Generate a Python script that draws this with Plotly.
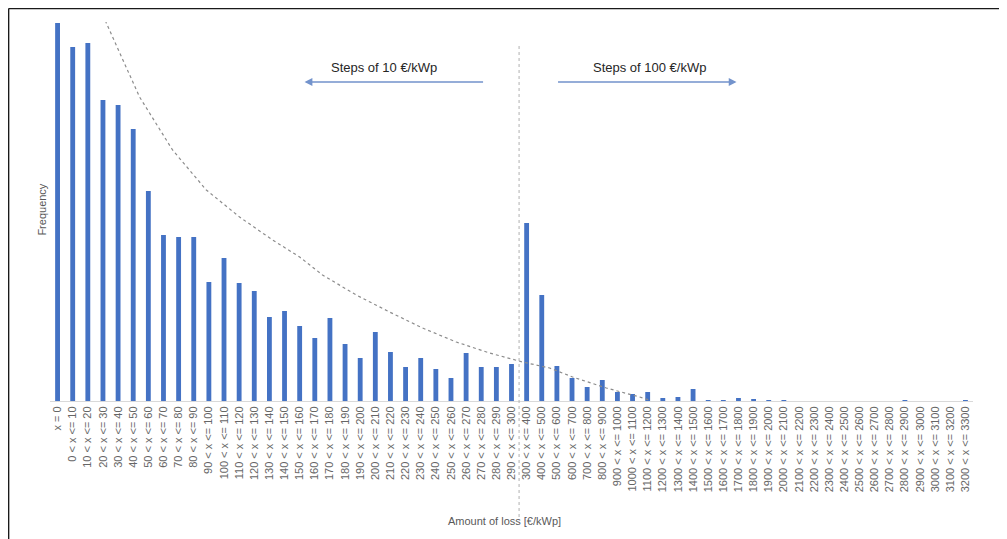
import plotly.graph_objects as go

# ---- data ----
categories = ["x = 0"] + [f"{a} < x <= {a + 10}" for a in range(0, 300, 10)] + \
             [f"{a} < x <= {a + 100}" for a in range(300, 3300, 100)]

frequency = [378, 354, 358, 301, 296, 272, 210, 166, 164, 164,
             119, 143, 118, 110, 84, 90, 75, 63, 83, 57,
             43, 69, 49, 34, 43, 32, 23, 48, 34, 34,
             37, 178, 106, 35, 23, 14, 21, 9, 7, 9,
             3, 4, 12, 1, 1, 3, 2, 1, 1, 0,
             0, 0, 0, 0, 0, 0, 0.6, 0, 0, 0,
             1]

trend_x = [2.95, 3.22, 5.42, 7.60, 9.83, 12.03, 14.21, 16.0, 17.51, 19.74,
           21.94, 24.12, 26.35, 28.55, 30.73, 32.52, 34.04, 36.27, 38.47, 39.1]
trend_y = [392, 378, 304, 251, 211, 184, 161, 144, 126, 106,
           89, 73, 59, 48, 39, 33, 24, 13, 4, 1]

# ---- layout geometry (window pixels; page body has an 8px margin) ----
OFF = 8
W, H = 1007, 539
PL, PR, PT, PB = 50.4, 973.5, 22, 401   # plot box in window pixels
ML, MT = PL - OFF, PT - OFF
MR, MB = W - (PR - OFF), H - (PB - OFF)
PW, PH = PR - PL, PB - PT


def px_x(p):
    return (p - PL) / PW


def px_y(p):
    return (PB - p) / PH


idx = list(range(len(categories)))

fig = go.Figure()
fig.add_trace(go.Bar(x=idx, y=frequency, width=0.32, marker_color="#4472C4",
                     marker_line_width=0, showlegend=False))
fig.add_trace(go.Scatter(x=trend_x, y=trend_y, mode="lines",
                         line=dict(color="#8c8c8c", width=1.2, dash="dot"),
                         showlegend=False, hoverinfo="skip"))

fig.update_layout(
    width=W, height=H,
    margin=dict(l=ML, r=MR, t=MT, b=MB),
    paper_bgcolor="white", plot_bgcolor="white",
    font=dict(family="Liberation Sans, Arial, sans-serif", color="#595959"),
    bargap=0.7,
)
fig.update_xaxes(range=[-0.5, len(categories) - 0.5], tickmode="array",
                 tickvals=idx, ticktext=categories, tickangle=-90,
                 tickfont=dict(size=11, color="#666666"),
                 showgrid=False, showline=True, linecolor="#d9d9d9",
                 linewidth=1, ticks="", zeroline=False)
fig.update_yaxes(range=[0, 379], tickmode="array", tickvals=[379],
                 showticklabels=False, showgrid=True, gridcolor="#e3e3e3",
                 zeroline=False, showline=False, ticks="")

split_x = (30.5 + 0.5) / len(categories)

shapes = [
    # vertical dotted divider
    dict(type="line", xref="paper", yref="paper", x0=split_x, x1=split_x,
         y0=px_y(517), y1=px_y(43), line=dict(color="#b0b0b0", width=1, dash="dot")),
    # frame
    dict(type="line", xref="paper", yref="paper", x0=px_x(9), x1=px_x(1002),
         y0=px_y(8.5), y1=px_y(8.5), line=dict(color="#1a1a1a", width=1.5)),
    dict(type="line", xref="paper", yref="paper", x0=px_x(9), x1=px_x(9),
         y0=px_y(8.5), y1=px_y(560), line=dict(color="#1a1a1a", width=1.5)),
    dict(type="line", xref="paper", yref="paper", x0=px_x(1002), x1=px_x(1002),
         y0=px_y(8.5), y1=px_y(560), line=dict(color="#8a8a8a", width=1.5)),
]
fig.update_layout(shapes=shapes)

arrow_col = "#7393cc"
annotations = [
    dict(text="Frequency", xref="paper", yref="paper", x=px_x(42), y=px_y(210),
         textangle=-90, showarrow=False, font=dict(size=11, color="#595959"),
         xanchor="center", yanchor="middle"),
    dict(text="Amount of loss [€/kWp]", xref="paper", yref="paper",
         x=px_x(505), y=px_y(521), showarrow=False,
         font=dict(size=11, color="#595959"), xanchor="center", yanchor="middle"),
    dict(text="Steps of 10 €/kWp", xref="paper", yref="paper", x=px_x(384),
         y=px_y(67), showarrow=False, font=dict(size=13, color="#262626"),
         xanchor="center", yanchor="middle"),
    dict(text="Steps of 100 €/kWp", xref="paper", yref="paper", x=px_x(650),
         y=px_y(67), showarrow=False, font=dict(size=13, color="#262626"),
         xanchor="center", yanchor="middle"),
    dict(text="", xref="paper", yref="paper", x=px_x(305), y=px_y(82),
         ax=485 - 305, ay=0,
         showarrow=True, arrowhead=2, arrowsize=1.2, arrowwidth=1.3,
         arrowcolor=arrow_col),
    dict(text="", xref="paper", yref="paper", x=px_x(737), y=px_y(82),
         ax=557 - 737, ay=0,
         showarrow=True, arrowhead=2, arrowsize=1.2, arrowwidth=1.3,
         arrowcolor=arrow_col),
]
fig.update_layout(annotations=annotations)

fig.write_html("out.html")
